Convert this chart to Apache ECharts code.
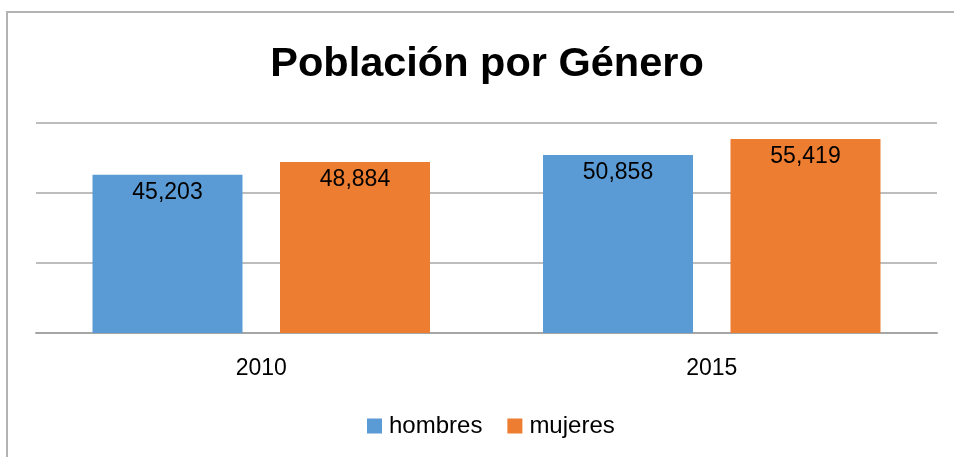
<!DOCTYPE html>
<html>
<head>
<meta charset="utf-8">
<script src="https://cdn.jsdelivr.net/npm/echarts@6/dist/echarts.min.js"></script>
<style>html,body{margin:0;padding:0;background:#fff;}#c{width:954px;height:457px;}</style>
</head>
<body>
<div id="c"></div>
<script>
const categories = ['2010', '2015'];
const seriesNames = ['hombres', 'mujeres'];
const hombres = [45203, 50858];
const mujeres = [48884, 55419];
const yTicks = [0, 20000, 40000, 60000];

const FONT = 'Liberation Sans';
const chart = echarts.init(document.getElementById('c'), null, {renderer: 'canvas'});
const labelOpt = {
  show: true, position: 'insideTop', distance: 6,
  color: '#000', fontSize: 23, fontFamily: FONT,
  formatter: p => p.value.toLocaleString('en-US')
};
chart.setOption({
  animation: false,
  backgroundColor: '#fff',
  graphic: [{
    type: 'rect', shape: {x: 7, y: 12, width: 1200, height: 800},
    style: {fill: 'none', stroke: '#b3b3b3', lineWidth: 2}, silent: true
  }],
  title: {
    text: 'Población por Género', left: 482, top: 39, textAlign: 'center',
    textStyle: {fontFamily: FONT, fontWeight: 'bold', fontSize: 41.5, color: '#000'}
  },
  legend: {
    data: seriesNames, left: 362, top: 409, icon: 'rect',
    itemWidth: 15, itemHeight: 15, itemGap: 25,
    textStyle: {fontFamily: FONT, fontSize: 24, color: '#000', padding: [0, 0, 0, 2]}
  },
  grid: {left: 36, right: 17, top: 123, bottom: 124, containLabel: false},
  xAxis: {
    type: 'category', data: categories,
    axisLine: {lineStyle: {color: '#a6a6a6', width: 2}},
    axisTick: {show: false},
    axisLabel: {fontFamily: FONT, fontSize: 23, color: '#000', margin: 24}
  },
  yAxis: {
    type: 'value', min: yTicks[0], max: yTicks[yTicks.length - 1], interval: yTicks[1] - yTicks[0],
    axisLabel: {show: false}, axisLine: {show: false}, axisTick: {show: false},
    splitLine: {lineStyle: {color: '#bdbdbd', width: 2}}
  },
  series: [
    {name: seriesNames[0], type: 'bar', data: hombres, barWidth: 150, barGap: '25%',
     itemStyle: {color: '#5B9BD5'}, label: labelOpt},
    {name: seriesNames[1], type: 'bar', data: mujeres, barWidth: 150, barGap: '25%',
     itemStyle: {color: '#ED7D31'}, label: labelOpt}
  ]
});
</script>
</body>
</html>
